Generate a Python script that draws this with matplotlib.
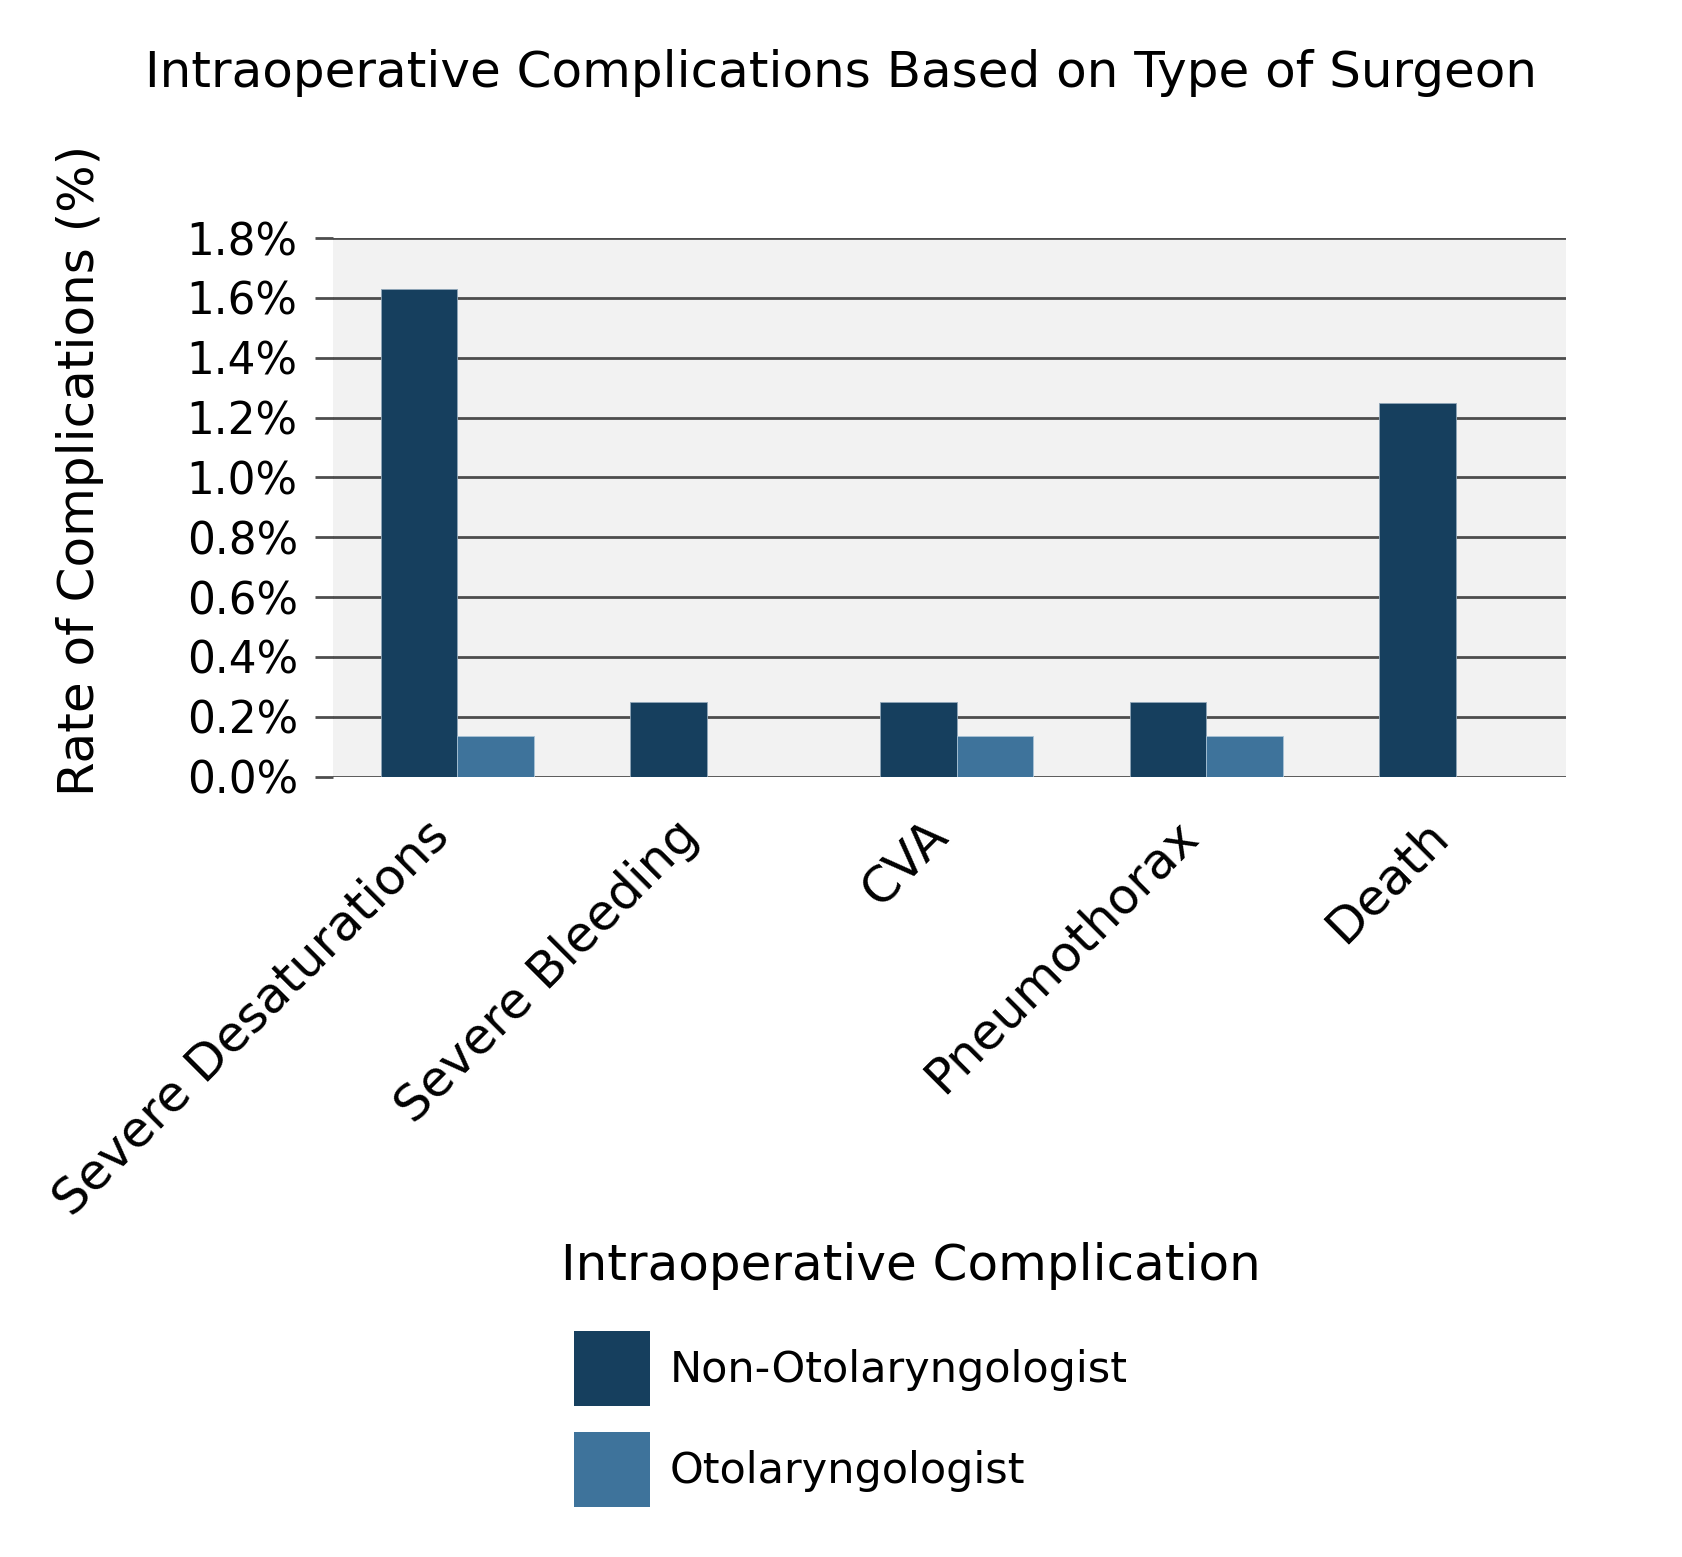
import numpy as np
import matplotlib.pyplot as plt
import matplotlib.transforms as mtransforms
from matplotlib.patches import Patch

# Data
categories = ["Severe Desaturations", "Severe Bleeding", "CVA", "Pneumothorax", "Death"]
non_oto = [1.63, 0.25, 0.25, 0.25, 1.25]
oto = [0.136, 0.0, 0.136, 0.136, 0.0]
yticks = [0.0, 0.2, 0.4, 0.6, 0.8, 1.0, 1.2, 1.4, 1.6, 1.8]
series = ["Non-Otolaryngologist", "Otolaryngologist"]

dark = "#163f5e"
light = "#3e739b"

plt.rcParams['font.family'] = ['DejaVu Sans']

fig = plt.figure(figsize=(16.82, 15.57), dpi=100)
ax = fig.add_axes([0.1977, 0.5012, 0.7333, 0.3459])
ax.set_facecolor("#f2f2f2")

x = np.arange(len(categories))
w = 0.307
ax.bar(x - w / 2, non_oto, w, color=dark, edgecolor="#8fa6b8", linewidth=0.6)
ax.bar(x + w / 2, oto, w, color=light, edgecolor="#a9c3d6", linewidth=0.6)

ax.set_xlim(-0.5, 4.44)
ax.set_ylim(0, 1.8)
ax.set_yticks(yticks)
ax.set_yticklabels([f"{v:.1f}%" for v in yticks], fontsize=31.5)
for lab in ax.get_yticklabels():
    lab.set_horizontalalignment("left")
ax.tick_params(axis="y", length=13, width=2, color="#4d4d4d", pad=92)
ax.yaxis.grid(True, color="#4d4d4d", linewidth=2)
ax.set_axisbelow(True)
for s in ax.spines.values():
    s.set_visible(False)

ax.set_xticks(x)
ax.set_xticklabels(categories, fontsize=35.8, rotation=45, ha="right",
                   va="center", rotation_mode="anchor")
ax.tick_params(axis="x", length=0, pad=37)
shift = mtransforms.ScaledTranslation(-0.16, 0, fig.dpi_scale_trans)
for lab in ax.get_xticklabels():
    lab.set_transform(lab.get_transform() + shift)

fig.text(0.5, 1 - 73 / 1557, "Intraoperative Complications Based on Type of Surgeon",
         ha="center", va="center", fontsize=36)
fig.text(80 / 1682, 1 - 470 / 1557, "Rate of Complications (%)", rotation=90,
         ha="center", va="center", fontsize=36)

# legend
fig.text(561 / 1682, 1 - 1266 / 1557, "Intraoperative Complication",
         ha="left", va="center", fontsize=36)
handles = [Patch(facecolor=dark), Patch(facecolor=light)]
leg = fig.legend(handles, series, loc="upper left",
                 bbox_to_anchor=(574 / 1682, 1 - 1331 / 1557), frameon=False,
                 borderpad=0, borderaxespad=0, fontsize=31,
                 handlelength=1.77, handleheight=2.31,
                 labelspacing=0.6, handletextpad=0.45)

fig.savefig("out.png", dpi=100)
